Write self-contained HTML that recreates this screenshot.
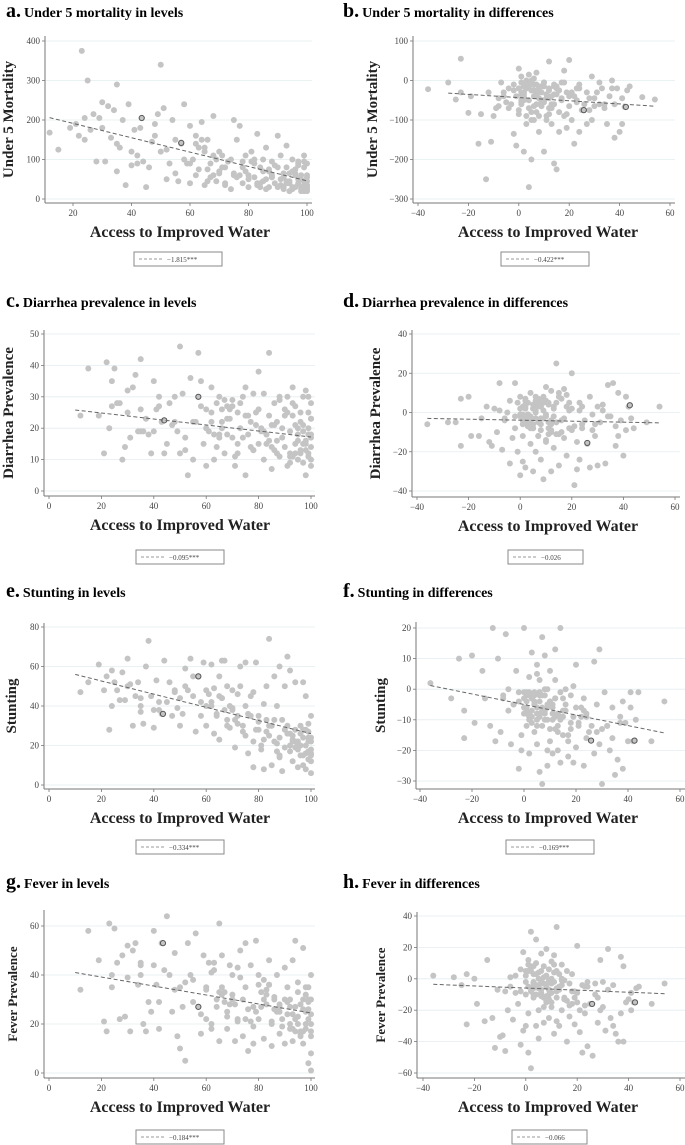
<!DOCTYPE html>
<html><head><meta charset="utf-8"><style>
html,body{margin:0;padding:0;background:#fff;}
svg{display:block;font-family:"Liberation Serif",serif;}
</style></head><body>
<svg id="fig" width="685" height="1145" viewBox="0 0 685 1145" xmlns="http://www.w3.org/2000/svg"></svg>
<script>
// ---- shared x data ----
const xLevelsA=[12,15,19,21,22,23,24,24,25,26,27,28,29,30,31,32,33,34,35,35,36,37,38,39,40,40,41,42,43,44,45,46,47,48,49,50,50,51,52,53,54,55,56,57,58,59,60,60,61,62,63,64,65,65,66,67,68,68,69,70,71,72,72,73,74,75,75,76,77,78,78,79,80,80,81,82,82,83,84,84,85,85,86,87,87,88,88,89,90,90,91,91,92,92,93,93,94,94,95,95,96,96,97,97,98,98,98,99,99,99,100,100,100,100,100,62,70,86,94,66];
const xLevelsB=[60,62,64,66,68,70,72,74,76,78,80,81,83,85,86,88,89,90,92,93,94,95,96,97,98,99,100,100,99,98,65,69,73,77,79,83,87,91,95,97,55,58,63,67,71,75,82,84,88,92,30,35,42,48,52,96,99,100,97,93];
const xDiffsA=[-36,-28,-25,-23,-23,-20,-19,-16,-15,-13,-12,-11,-10,-9,-8,-7,-6,-5,-4,-3,-2,-2,-1,-1,0,0,0,1,1,1,2,2,2,3,3,3,4,4,4,5,5,5,6,6,6,7,7,7,8,8,8,9,9,9,10,10,10,11,11,12,12,12,13,13,14,14,15,15,16,16,17,17,18,18,19,19,20,20,21,22,22,23,23,24,24,25,26,27,27,28,29,29,30,31,32,33,34,35,36,37,38,38,39,40,41,41,42,43,44,49,54,3,6,9,2,5,11,14,1,7];
const xDiffsB=[0,1,2,3,4,5,6,7,8,9,10,11,12,13,14,15,1,3,5,7,2,4,6,8,10,12,0,2,4,6,9,11,13,15,17,19,21,23,-2,-4,3,5,8,10,14,18,20,24,28,32,-6,-8,1,6,9,12,16,30,34,37];
const xLevels=[...xLevelsA,...xLevelsB];
const xDiffs=[...xDiffsA,...xDiffsB];
// ---- series values ----
const mortLevels=[168,125,180,190,160,375,205,150,300,175,215,95,205,245,95,235,155,225,290,70,130,200,35,240,120,85,175,90,180,95,30,80,145,190,215,120,340,230,50,90,200,65,45,140,240,90,185,40,100,160,75,195,120,35,150,90,60,210,100,65,110,80,40,95,25,200,60,150,185,95,40,70,60,30,120,55,90,165,80,30,100,45,130,70,30,60,95,40,160,80,35,110,55,25,80,135,45,20,70,100,30,60,40,95,25,50,20,80,35,110,60,30,90,45,20,140,120,50,65,75,
90,60,150,45,110,70,35,100,55,80,50,95,40,70,25,55,85,30,65,45,40,25,75,50,30,95,35,55,20,60,130,45,95,60,110,35,75,50,30,85,150,100,130,55,80,65,100,40,55,30,180,140,110,160,125,65,45,25,90,40];
const diarLevels=[24,39,24,12,41,20,35,27,39,28,28,10,14,32,17,33,37,19,26,42,19,23,18,12,35,19,26,30,22,12,15,28,21,30,19,12,46,31,13,5,36,10,22,44,35,15,26,8,19,33,10,28,30,18,20,12,23,27,26,29,8,15,25,20,30,5,33,18,22,31,13,25,38,15,20,31,10,18,44,24,14,7,28,16,22,30,11,20,26,14,8,30,19,12,33,24,15,27,10,18,22,13,30,9,32,16,5,25,12,20,14,10,18,28,8,22,17,21,12,26,
20,25,14,22,18,27,12,17,24,13,26,19,15,21,13,29,17,24,11,28,21,16,25,19,13,30,23,17,11,15,17,23,28,14,21,18,12,25,20,15,22,27,18,29,11,24,19,16,29,9,25,19,27,22,17,12,18,23,21,11];
const stuntLevels=[47,52,61,48,55,28,40,58,52,48,43,57,43,64,51,30,45,52,40,37,31,60,73,45,38,29,53,38,36,63,42,52,35,47,39,44,30,36,59,48,64,45,27,55,35,62,40,30,46,61,26,35,55,23,44,63,30,50,29,39,19,46,35,60,30,62,25,16,45,47,9,62,28,35,18,41,8,50,25,74,30,10,55,17,40,60,24,7,50,19,65,30,20,58,23,12,52,28,9,20,30,15,52,24,20,8,45,27,13,22,18,6,35,24,15,40,48,33,22,63,
48,42,36,44,33,38,31,27,36,22,32,20,27,30,22,14,33,28,17,25,19,22,26,15,28,17,22,12,31,16,45,40,50,35,28,33,21,26,18,10,55,42,49,38,33,40,23,30,15,26,50,44,42,48,50,20,24,16,28,22];
const feverLevels=[34,58,46,21,17,61,40,35,59,45,22,48,23,52,17,50,53,36,45,40,20,17,29,25,58,44,36,18,53,42,64,40,25,49,15,35,10,27,5,53,40,29,57,27,16,48,34,22,45,20,42,30,61,13,35,29,25,18,44,30,13,43,21,50,15,53,35,9,44,27,12,54,40,22,33,14,38,28,46,36,20,11,30,25,40,28,16,22,43,12,35,24,18,30,46,13,27,54,20,37,15,28,51,12,25,18,35,4,30,22,40,8,1,20,30,18,32,26,17,48,
35,41,27,32,23,40,22,30,26,19,36,27,34,21,31,25,19,30,27,18,22,33,17,26,20,35,24,15,29,32,33,28,39,21,25,32,26,29,23,17,38,24,45,33,28,22,30,36,27,20,39,44,29,34,37,16,26,17,30,24];
const mortDiffs=[-22,-5,-48,55,-30,-82,-40,-160,-85,-250,-30,-155,-90,-70,-45,-5,-30,-55,-20,-60,-135,-10,-165,-40,-20,30,-85,-60,10,-35,-180,-15,-50,-110,0,-20,-270,-70,15,-200,-25,-80,-40,5,-100,-60,-10,20,-130,-45,-90,-30,-15,-65,-180,-50,-5,-100,-35,-70,-20,48,-40,-110,-210,-60,-225,-15,-130,-80,-50,-5,-90,25,-120,-30,52,-65,-100,-40,-160,-20,-50,-130,-10,-75,-60,-110,-30,-45,10,-100,-65,-30,-5,-20,-70,-110,-40,0,-145,-60,-20,-130,-45,-110,-67,-25,-15,-42,-48,-10,-25,-55,-30,-5,-90,-15,-50,-35,
-20,-5,-35,-15,-50,-25,-10,-40,-30,-60,-15,-45,-25,-70,-10,-35,-55,-20,0,-80,-30,-10,-65,-20,-5,-45,-75,-40,-15,-25,-50,-35,-60,-20,-45,-85,-30,-55,-25,-70,-90,-100,-15,-55,-35,-5,-40,-20,-75,-60,-40,-65,-30,-10,-50,-85,-25,-45,-60,-20];
const diarDiffs=[-6,-5,-5,7,-17,8,-12,-12,-3,3,-15,-17,2,-10,15,-19,-4,0,-26,-13,15,-8,5,-20,-32,-2,8,-25,3,-12,7,-5,-28,-7,5,-3,-16,10,-2,-30,2,-8,4,-20,8,-5,-12,6,-24,3,-9,-3,5,-34,-1,-15,13,4,-8,-30,11,-6,-2,-18,25,-11,10,-27,-4,7,12,-13,3,-22,-8,1,-9,20,-37,-29,-15,5,-24,-8,3,-4,-16,-28,8,-1,-12,-6,-27,-5,1,-26,14,-2,15,-17,10,-12,-4,-22,8,-9,3,-3,-8,-5,3,-1,6,-3,2,-6,-11,5,-2,4,
2,-4,6,-1,-8,4,-3,7,-6,1,-2,5,-10,3,-5,8,-1,-7,2,-12,4,-6,1,-3,6,-9,-1,3,-4,0,8,-5,2,-11,-3,5,-7,1,-2,6,-1,-8,3,-14,-5,9,2,-6,-9,4,-3,1,-6,2,7,-4,-10,3,-2,-7];
const stuntDiffs=[2,-3,10,-16,-7,11,-11,6,-3,-12,20,-17,10,-14,-2,18,-7,-18,-5,6,-26,-4,-15,-20,20,-8,-1,-12,-6,-2,4,-10,-21,-3,12,-7,-14,-1,-5,5,8,-18,-27,-9,3,17,-12,-31,-2,-8,11,-20,-6,-25,-4,6,-17,-10,-21,13,3,-13,-8,-20,20,-24,-9,-15,0,-5,-17,-22,-2,-11,-24,1,8,-19,-12,-6,-9,-25,-3,-16,-8,-14,-12,-21,9,-5,13,-18,-31,-1,-12,-20,-6,-28,-23,-9,-26,-4,-11,-17,-1,-6,-17,-10,-1,-17,-4,-3,-8,-6,-2,-10,-5,-9,-1,-7,
-3,-7,-1,-9,-4,-12,-2,-6,-10,0,-5,-8,-3,-14,-1,-7,-4,-11,-6,-2,-9,-5,-1,-7,-13,-3,-6,-8,-2,-4,-10,-6,-12,-3,-15,-9,-11,-7,-1,-5,-2,-8,0,-4,-10,-13,-6,-9,-14,-12,0,-3,-8,-1,-5,-9,-7,-13,-16,-11];
const feverDiffs=[2,1,-4,-29,3,0,-16,-27,12,-25,-44,-7,-37,-36,-46,-20,-5,-26,2,-16,-42,-8,17,-33,-30,5,-10,-22,12,-47,30,-8,-57,-3,8,-12,25,-30,3,-20,-6,-38,16,5,-10,-28,-3,8,-15,19,-5,-25,-13,-2,11,-18,-9,-35,15,-27,33,-12,-5,-30,9,-20,-1,-13,-40,5,-17,-24,3,-8,-29,-12,-15,21,-34,-4,-47,-17,-22,-43,-5,-16,-49,-10,-3,-28,12,-20,-2,-33,19,-25,-30,-35,-40,14,-40,8,-15,-13,-9,-20,-15,-6,-5,-16,-3,-10,-1,-7,5,-4,-2,0,9,-12,
2,-5,8,-2,-10,4,-7,1,-14,6,-3,9,-8,3,-1,-12,5,-6,0,-18,7,-4,-9,2,-15,5,-2,-6,10,-11,-1,4,-7,-13,-3,-8,-20,-5,6,-9,3,-6,-11,0,-4,-16,-9,-2,-12,-7,1,-8,5,-3,-10,-6,-14,-18,-4,-22];
// ---- fitted lines (endpoints) and highlighted points ----
const fitA=[[12,206],[100,46]], fitB=[[-28,-32],[54,-65]], fitC=[[10,25.8],[100,17.2]], fitD=[[-36,-3],[54,-5.3]];
const fitE=[[10,56],[100,26]], fitF=[[-36,1.2],[54,-14.3]], fitG=[[10,41],[100,24.5]], fitH=[[-36,-3.5],[54,-9.5]];
const hiA=[[43.5,205],[57,142]], hiB=[[25.8,-75],[42.5,-67]], hiC=[[44,22.5],[57,30]], hiD=[[26,-15.5],[42.5,3.7]];
const hiE=[[43.5,36],[57,55]], hiF=[[25.8,-16.8],[42.5,-16.8]], hiG=[[43.5,53],[57,27]], hiH=[[25.8,-16],[42.5,-15]];
// ---- tick labels ----
const ticksA=[0,100,200,300,400], ticksB=[-300,-200,-100,0,100], ticksC=[0,10,20,30,40,50], ticksD=[-40,-20,0,20,40];
const ticksE=[0,20,40,60,80], ticksF=[-30,-20,-10,0,10,20], ticksG=[0,20,40,60], ticksH=[-60,-40,-20,0,20,40];
const xTicksA=[20,40,60,80,100], xTicksLev=[0,20,40,60,80,100], xTicksDiff=[-40,-20,0,20,40,60];
const coefs=["\u22121.815***","\u22120.422***","\u22120.095***","\u22120.026","\u22120.334***","\u22120.169***","\u22120.184***","\u22120.066"];

const NS="http://www.w3.org/2000/svg";
const svg=document.getElementById('fig');
function mk(tag,attrs,parent){const e=document.createElementNS(NS,tag);for(const k in attrs)e.setAttribute(k,attrs[k]);(parent||svg).appendChild(e);return e;}

function panel(c){
  const g=mk('g',{});
  
  
  const sx=v=>c.px0+(v-c.x0)*(c.px1-c.px0)/(c.x1-c.x0);
  const sy=v=>c.py0+(v-c.y0)*(c.py1-c.py0)/(c.y1-c.y0);
  const t=mk('text',{x:c.tx,y:c.ty,'font-weight':'bold','font-size':'14',fill:'#000'},g);
  
  
  const ts=mk('tspan',{'font-size':'20'},t);ts.textContent=c.id+'.';
  const ts2=mk('tspan',{dx:'3'},t);ts2.textContent=c.title;
  c.yt.forEach(v=>{
    const y=sy(v);
    const gl=mk('line',{x1:c.ax+1,x2:c.ar,y1:y,y2:y,stroke:'#e3ecef','stroke-width':'0.8'},g);
    
    
    mk('line',{x1:c.ax-3,x2:c.ax,y1:y,y2:y,stroke:'#777','stroke-width':'0.8'},g);
    const tl=mk('text',{x:c.ax-5,y:y+3,'text-anchor':'end','font-size':'9',fill:'#444'},g);
    tl.textContent=String(v).replace('-','\u2212');
    
    
  });
  c.xt.forEach(v=>{
    const x=sx(v);
    mk('line',{x1:x,x2:x,y1:c.ab,y2:c.ab+3,stroke:'#777','stroke-width':'0.8'},g);
    const tl=mk('text',{x:x,y:c.ab+13,'text-anchor':'middle','font-size':'9',fill:'#444'},g);
    tl.textContent=String(v).replace('-','\u2212');
    
    
  });
  const ya=mk('line',{x1:c.ax,x2:c.ax,y1:c.at,y2:c.ab,stroke:'#777','stroke-width':'1'},g);
  
  
  const xa=mk('line',{x1:c.ax,x2:c.ar,y1:c.ab,y2:c.ab,stroke:'#777','stroke-width':'1'},g);
  
  
  const n=Math.min(c.xs.length,c.ys.length);
  for(let i=0;i<n;i++){
    const p=mk('circle',{cx:sx(c.xs[i]),cy:sy(c.ys[i]),r:3,fill:'#c4c4c4'},g);
    
    
  }
  c.hi.forEach(h=>{
    const p=mk('circle',{cx:sx(h[0]),cy:sy(h[1]),r:2.6,fill:'#c4c4c4',stroke:'#555','stroke-width':'1'},g);
    
    
  });
  const fl=mk('line',{x1:sx(c.fit[0][0]),y1:sy(c.fit[0][1]),x2:sx(c.fit[1][0]),y2:sy(c.fit[1][1]),stroke:'#666','stroke-width':'1','stroke-dasharray':'4,2.5'},g);
  
  
  const xt=mk('text',{x:c.xtx,y:c.ab+34,'text-anchor':'middle','font-weight':'bold','font-size':'16',fill:'#222'},g);
  xt.textContent='Access to Improved Water';
  
  
  const cy=(c.at+c.ab)/2;
  const yt=mk('text',{x:c.ytx,y:cy,'text-anchor':'middle','font-weight':'bold','font-size':c.yfs,fill:'#222',transform:'rotate(-90 '+c.ytx+' '+cy+')'},g);
  yt.textContent=c.ytitle;
  
  
  const lg=mk('g',{},g);
  
  
  mk('rect',{x:c.lx,y:c.ly,width:c.lw,height:14,fill:'#fff',stroke:'#888','stroke-width':'1'},lg);
  mk('line',{x1:c.lx+5,x2:c.lx+28,y1:c.ly+7,y2:c.ly+7,stroke:'#777','stroke-width':'0.8','stroke-dasharray':'3,2'},lg);
  const lt=mk('text',{x:c.lx+33,y:c.ly+10,'font-size':'7',fill:'#444'},lg);
  lt.textContent=c.coef;
  
  
}

const L=[{id:'a',title:'Under 5 mortality in levels',ty:17,y0:0,y1:400,py0:199,py1:41,at:36,ab:203,yt:ticksA,xt:xTicksA,x0:20,x1:100,px0:73,px1:307,ax:45,ar:312,xs:xLevels,ys:mortLevels,fit:fitA,hi:hiA,ytitle:'Under 5 Mortality',ytx:13,yfs:15,lx:134,ly:252,lw:88,coef:coefs[0]},
{id:'c',title:'Diarrhea prevalence in levels',ty:307,y0:0,y1:50,py0:491,py1:334,at:330,ab:496,yt:ticksC,xt:xTicksLev,x0:0,x1:100,px0:49,px1:311,ax:44,ar:315,xs:xLevels,ys:diarLevels,fit:fitC,hi:hiC,ytitle:'Diarrhea Prevalence',ytx:13,yfs:15,lx:136,ly:550,lw:88,coef:coefs[2]},
{id:'e',title:'Stunting in levels',ty:597,y0:0,y1:80,py0:785,py1:627,at:623,ab:789,yt:ticksE,xt:xTicksLev,x0:0,x1:100,px0:49,px1:311,ax:44,ar:315,xs:xLevels,ys:stuntLevels,fit:fitE,hi:hiE,ytitle:'Stunting',ytx:16,yfs:15,lx:136,ly:840,lw:88,coef:coefs[4]},
{id:'g',title:'Fever in levels',ty:888,y0:0,y1:60,py0:1073,py1:926,at:910,ab:1078,yt:ticksG,xt:xTicksLev,x0:0,x1:100,px0:49,px1:311,ax:44,ar:315,xs:xLevels,ys:feverLevels,fit:fitG,hi:hiG,ytitle:'Fever Prevalence',ytx:17,yfs:13,lx:136,ly:1130,lw:88,coef:coefs[6]}];
const R=[{id:'b',title:'Under 5 mortality in differences',ty:17,y0:-300,y1:100,py0:199,py1:41,at:36,ab:203,yt:ticksB,xt:xTicksDiff,x0:-40,x1:60,px0:418,px1:670,ax:413,ar:675,xs:xDiffs,ys:mortDiffs,fit:fitB,hi:hiB,ytitle:'Under 5 Mortality',ytx:377,yfs:15,lx:501,ly:252,lw:88,coef:coefs[1]},
{id:'d',title:'Diarrhea prevalence in differences',ty:307,y0:-40,y1:40,py0:491,py1:334,at:330,ab:497,yt:ticksD,xt:xTicksDiff,x0:-40,x1:60,px0:417,px1:675,ax:412,ar:680,xs:xDiffs,ys:diarDiffs,fit:fitD,hi:hiD,ytitle:'Diarrhea Prevalence',ytx:380,yfs:15,lx:508,ly:550,lw:75,coef:coefs[3]},
{id:'f',title:'Stunting in differences',ty:597,y0:-30,y1:20,py0:781,py1:628,at:622,ab:789,yt:ticksF,xt:xTicksDiff,x0:-40,x1:60,px0:420,px1:680,ax:416,ar:685,xs:xDiffs,ys:stuntDiffs,fit:fitF,hi:hiF,ytitle:'Stunting',ytx:385,yfs:15,lx:506,ly:840,lw:88,coef:coefs[5]},
{id:'h',title:'Fever in differences',ty:888,y0:-60,y1:40,py0:1073,py1:916,at:912,ab:1078,yt:ticksH,xt:xTicksDiff,x0:-40,x1:60,px0:423,px1:680,ax:417,ar:685,xs:xDiffs,ys:feverDiffs,fit:fitH,hi:hiH,ytitle:'Fever Prevalence',ytx:385,yfs:13,lx:512,ly:1130,lw:75,coef:coefs[7]}];
L.forEach(c=>{c.tx=6;c.xtx=180;panel(c);});
R.forEach(c=>{c.tx=343;c.xtx=548;panel(c);});
</script>
</body></html>
